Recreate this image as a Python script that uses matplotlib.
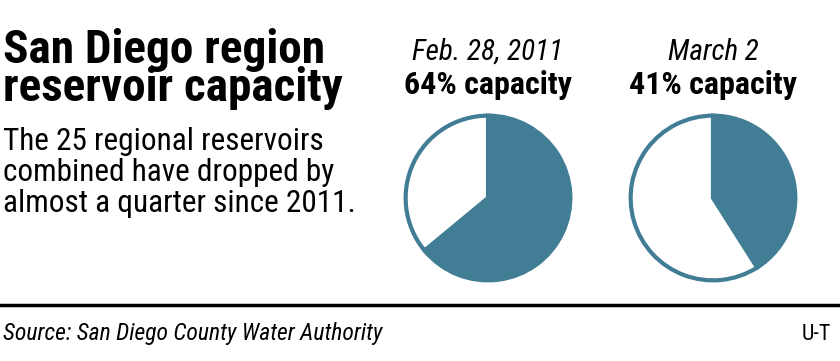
import matplotlib
matplotlib.use("Agg")
import matplotlib.pyplot as plt

# data
dates = ["Feb. 28, 2011", "March 2"]
capacity = [64, 41]
teal = "#427d96"

W, H = 840, 361
fig = plt.figure(figsize=(W / 100, H / 100), dpi=100)
fig.patch.set_facecolor("white")

narrow = ["Roboto Condensed", "Roboto", "DejaVu Sans"]

def px(x, y):
    return x / W, 1 - y / H

# headline + intro
fig.text(*px(3, 63), "San Diego region", fontsize=34, fontweight="bold",
         family=narrow, ha="left", va="baseline")
fig.text(*px(3, 101), "reservoir capacity", fontsize=34, fontweight="bold",
         family=narrow, ha="left", va="baseline")
for i, line in enumerate(["The 25 regional reservoirs",
                          "combined have dropped by",
                          "almost a quarter since 2011."]):
    fig.text(*px(3, 150 + 31 * i), line, fontsize=22.5, family=narrow,
             ha="left", va="baseline")

# pies
centers = [488, 713]
r = 84
for cx, d, c in zip(centers, dates, capacity):
    ax = fig.add_axes([(cx - r) / W, (H - 198 - r) / H, 2 * r / W, 2 * r / H])
    ax.pie([c, 100 - c], colors=[teal, "white"], startangle=90,
           counterclock=False,
           wedgeprops=dict(edgecolor=teal, linewidth=3))
    ax.set_xlim(-1.02, 1.02)
    ax.set_ylim(-1.02, 1.02)
    ax.set_aspect("equal")
    fig.text(*px(cx, 60), d, fontsize=21, style="italic", family=narrow,
             ha="center", va="baseline")
    fig.text(*px(cx, 94), f"{c}% capacity", fontsize=23, fontweight="bold",
             family=narrow, ha="center", va="baseline")

# rule + footer
fig.add_artist(plt.Line2D([0, 1], [1 - 305 / H] * 2, color="black", lw=2.5,
                          transform=fig.transFigure))
fig.text(*px(3, 340), "Source: San Diego County Water Authority", fontsize=17,
         style="italic", family=narrow, ha="left", va="baseline")
fig.text(*px(831, 340), "U-T", fontsize=16, family=narrow, ha="right",
         va="baseline")

fig.savefig("out.png", dpi=100, facecolor="white")
